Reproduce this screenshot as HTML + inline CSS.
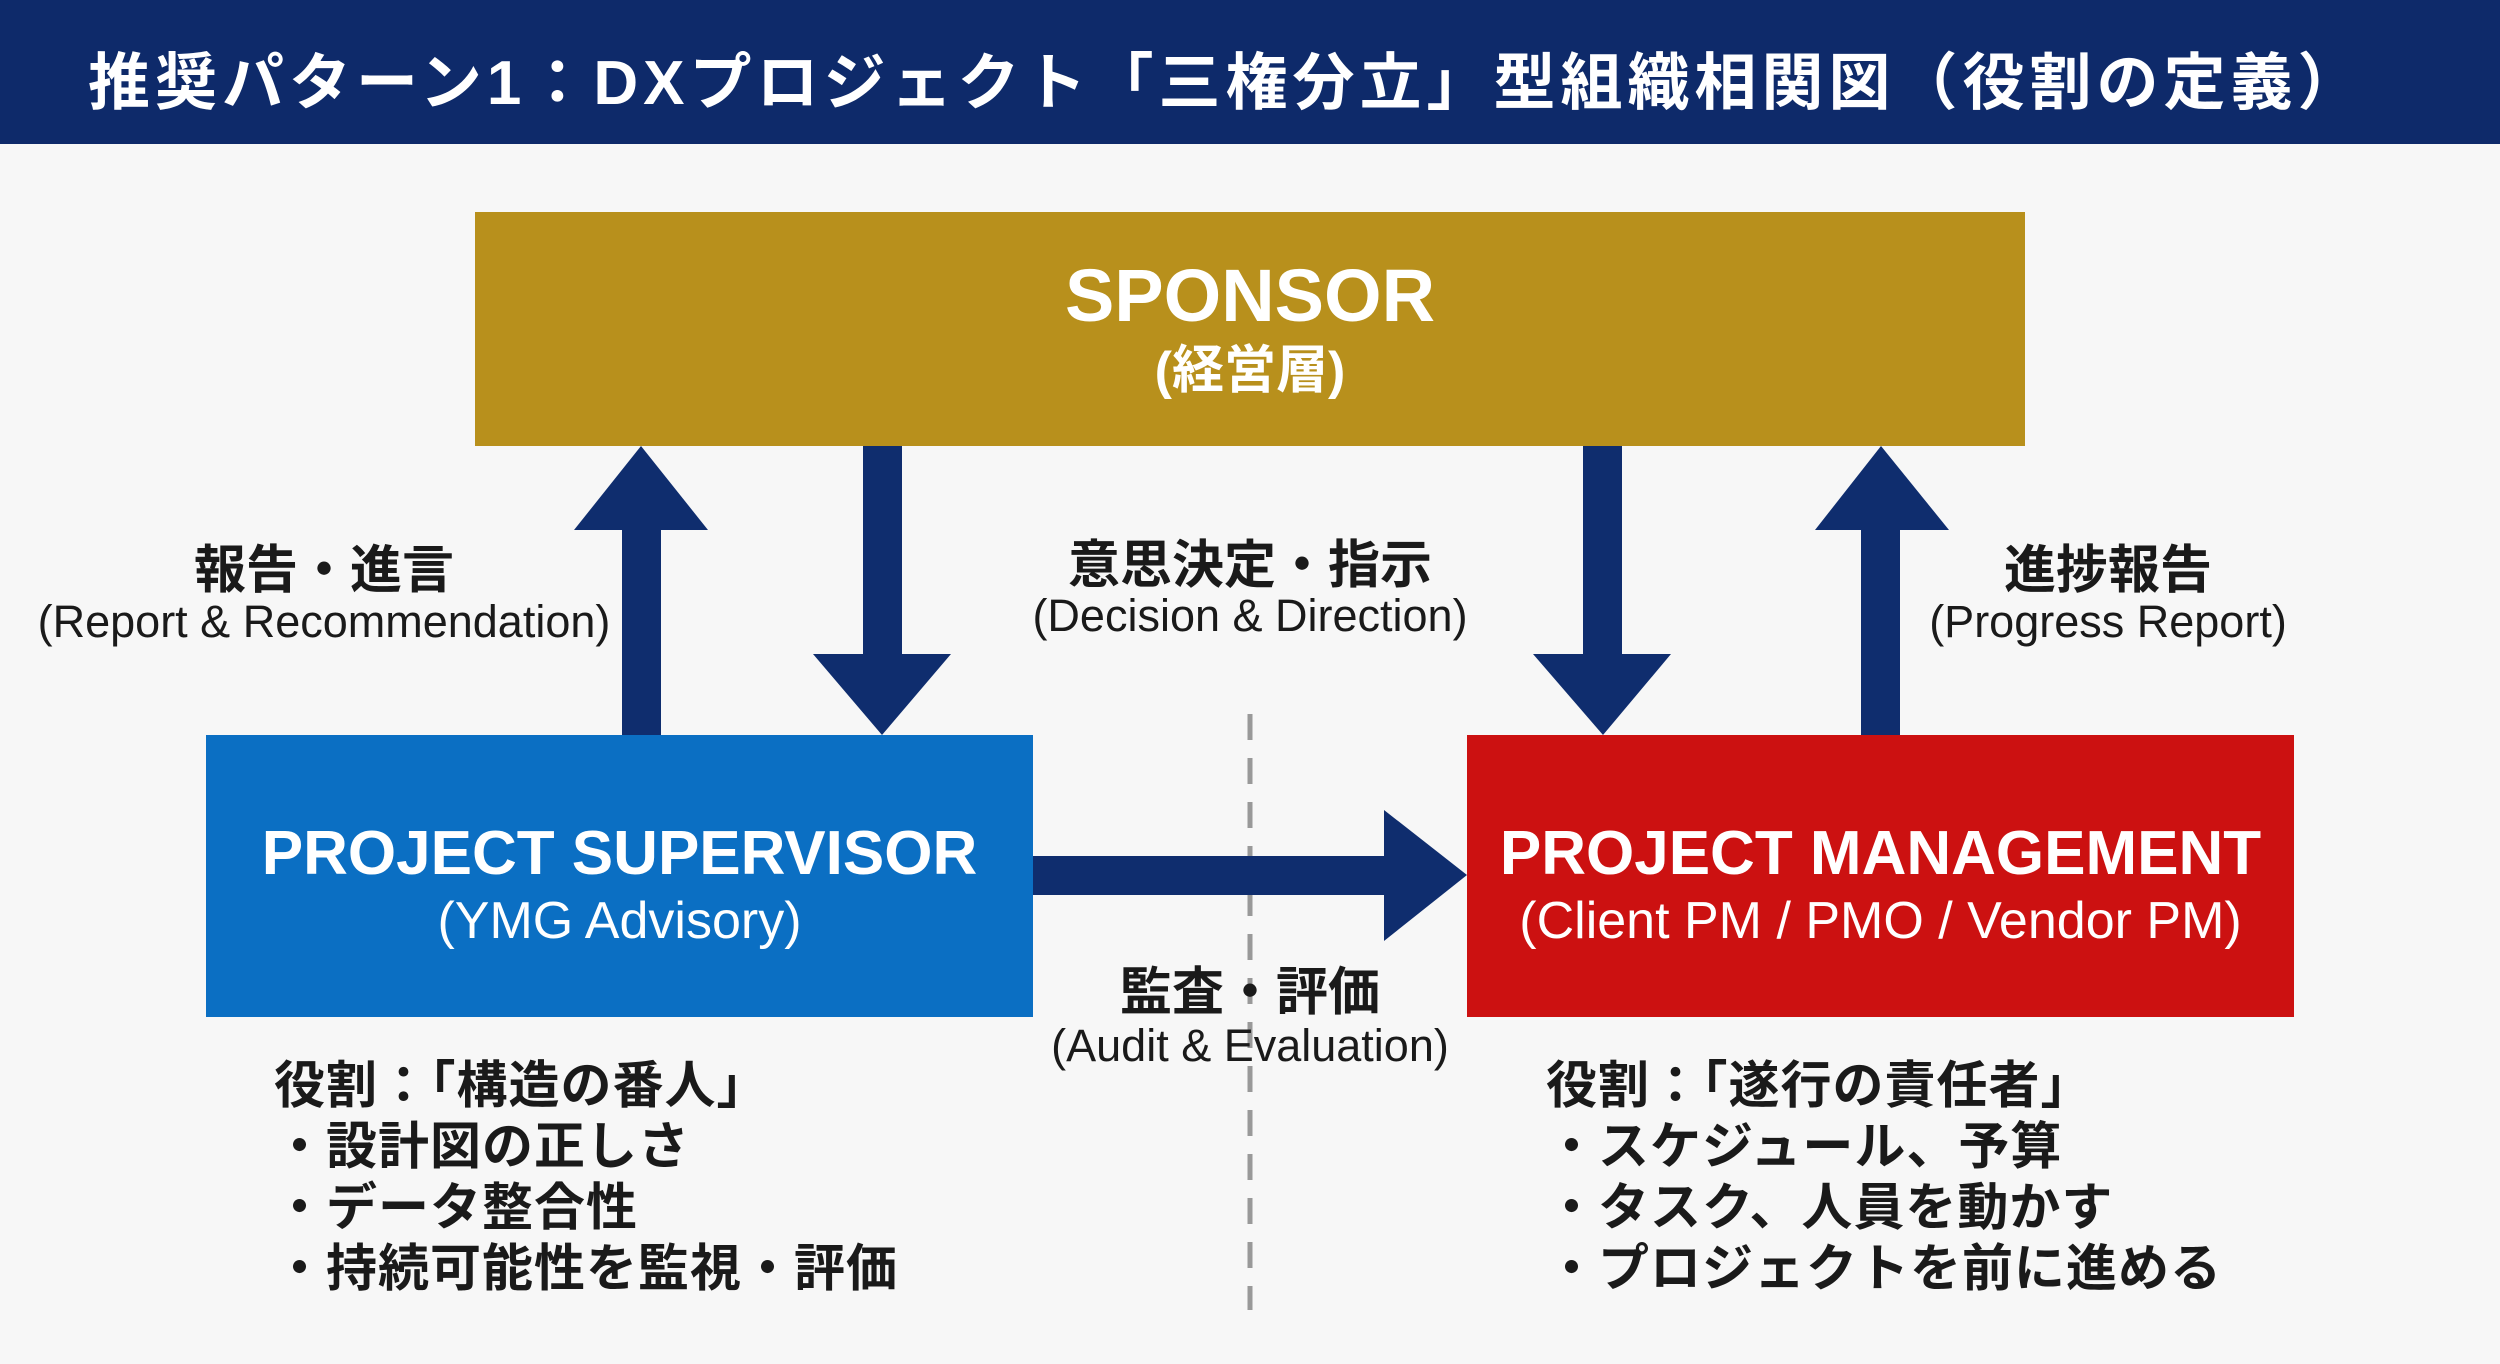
<!DOCTYPE html>
<html><head><meta charset="utf-8"><style>
*{margin:0;padding:0;box-sizing:border-box}
body{width:2500px;height:1364px;background:#f7f7f7;position:relative;overflow:hidden;font-family:"Liberation Sans","Noto Sans CJK JP",sans-serif}
.t{position:absolute;white-space:nowrap}
.c{transform:translateX(-50%);text-align:center}
.box{position:absolute;color:#fff;text-align:center}
.jp{font-weight:bold;font-size:52px;color:#1a1a1a}
.en{font-size:45px;color:#1a1a1a}
.role{font-weight:bold;font-size:51px;color:#1a1a1a;line-height:61px;letter-spacing:1px}
</style></head><body>
<div style="position:absolute;left:0;top:0;width:2500px;height:144px;background:#0e2a6a"></div>
<div class="t" style="left:88px;top:32px;font-size:62px;font-weight:bold;color:#fff;letter-spacing:5px">推奨パターン1：DXプロジェクト「三権分立」型組織相関図（役割の定義）</div>

<div class="box" style="left:475px;top:212px;width:1550px;height:234px;background:#b8901c">
<div style="font-size:74px;font-weight:bold;margin-top:44px;line-height:80px">SPONSOR</div>
<div style="font-size:52px;font-weight:bold;line-height:70px">(経営層)</div></div>

<div class="box" style="left:206px;top:735px;width:827px;height:282px;background:#0b6fc3">
<div style="font-size:62px;font-weight:bold;margin-top:83px;line-height:72px">PROJECT SUPERVISOR</div>
<div style="font-size:52px;line-height:62px">(YMG Advisory)</div></div>

<div class="box" style="left:1467px;top:735px;width:827px;height:282px;background:#cc1111">
<div style="font-size:62px;font-weight:bold;margin-top:83px;line-height:72px">PROJECT MANAGEMENT</div>
<div style="font-size:52px;line-height:62px">(Client PM / PMO / Vendor PM)</div></div>

<svg style="position:absolute;left:0;top:0" width="2500" height="1364">
<line x1="1250" y1="714" x2="1250" y2="1310" stroke="#999" stroke-width="5" stroke-dasharray="26,18"/>
<g fill="#0f2d6e">
<rect x="622" y="528" width="39" height="207"/><polygon points="574,530 708,530 641,446"/>
<rect x="863" y="446" width="39" height="210"/><polygon points="813,654 951,654 882,735"/>
<rect x="1583" y="446" width="39" height="210"/><polygon points="1533,654 1671,654 1603,735"/>
<rect x="1861" y="528" width="39" height="207"/><polygon points="1815,530 1949,530 1881,446"/>
<rect x="1033" y="856" width="355" height="39"/><polygon points="1384,810 1384,941 1467,875"/>
</g></svg>

<div class="t c jp" style="left:324px;top:528px">報告・進言</div>
<div class="t c en" style="left:324px;top:596px">(Report &amp; Recommendation)</div>
<div class="t c jp" style="left:1250px;top:523px">意思決定・指示</div>
<div class="t c en" style="left:1250px;top:590px">(Decision &amp; Direction)</div>
<div class="t c jp" style="left:2108px;top:528px">進捗報告</div>
<div class="t c en" style="left:2108px;top:596px">(Progress Report)</div>
<div class="t c jp" style="left:1250px;top:950px">監査・評価</div>
<div class="t c en" style="left:1250px;top:1020px">(Audit &amp; Evaluation)</div>

<div class="t role" style="left:274px;top:1055px">役割：「構造の番人」<br>・設計図の正しさ<br>・データ整合性<br>・持続可能性を監視・評価</div>
<div class="t role" style="left:1546px;top:1055px">役割：「遂行の責任者」<br>・スケジュール、予算<br>・タスク、人員を動かす<br>・プロジェクトを前に進める</div>
</body></html>
